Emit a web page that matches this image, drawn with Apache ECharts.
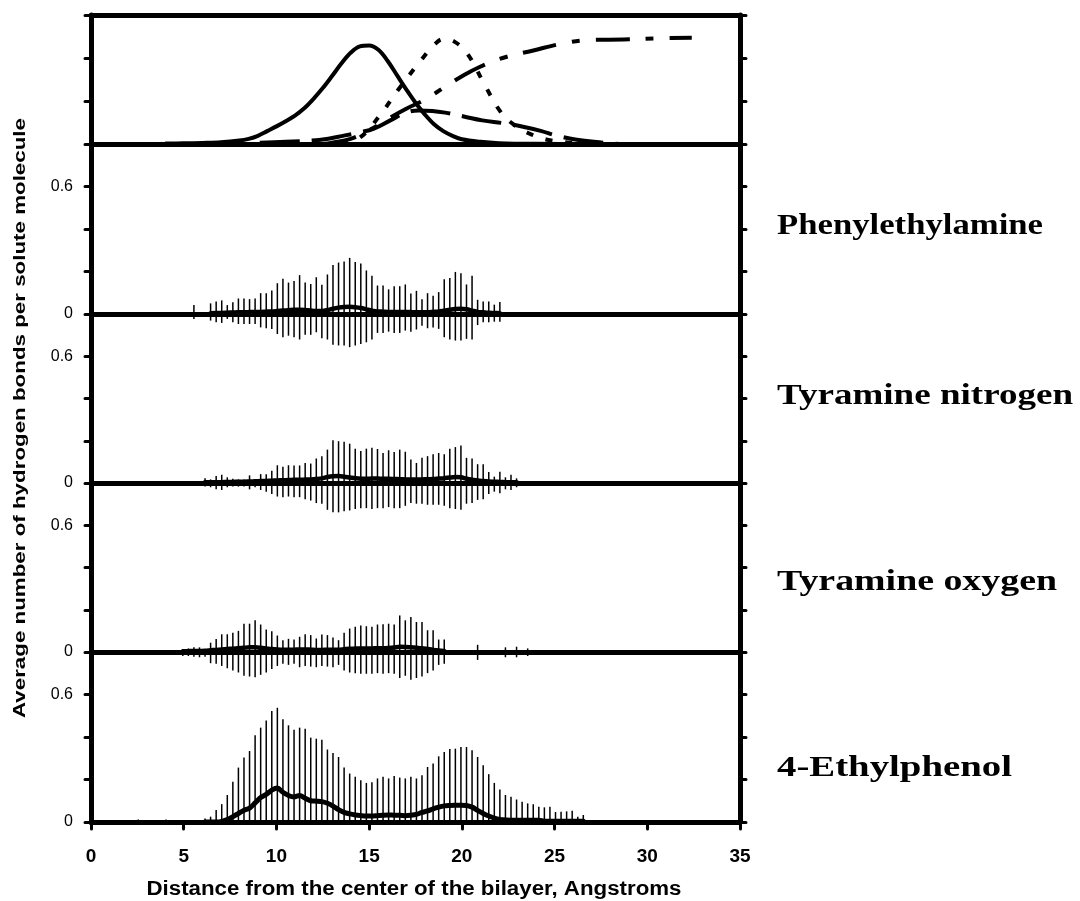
<!DOCTYPE html>
<html><head><meta charset="utf-8">
<script src="https://cdn.jsdelivr.net/npm/echarts@6/dist/echarts.min.js"></script>
<style>html,body{margin:0;padding:0;background:#fff}#c{width:1080px;height:901px}</style>
</head><body><div id="c"></div>
<script>
// ---------- DATA ----------
const xTicks = [0, 5, 10, 15, 20, 25, 30, 35];
const yTickLabels = ['0', '0.6'];
const panelNames = ['Phenylethylamine', 'Tyramine nitrogen', 'Tyramine oxygen', '4-Ethylphenol'];
const xTitle = 'Distance from the center of the bilayer, Angstroms';
const yTitle = 'Average number of hydrogen bonds per solute molecule';

// bin centres (Angstrom)
const distanceBins = [2.55, 2.85, 3.15, 3.45, 3.75, 4.05, 4.35, 4.65,
  4.95, 5.25, 5.55, 5.85, 6.15, 6.45, 6.75, 7.05, 7.35, 7.65, 7.95, 8.25, 8.55, 8.85,
  9.15, 9.45, 9.75, 10.05, 10.35, 10.65, 10.95, 11.25, 11.55, 11.85, 12.15, 12.45, 12.75,
  13.05, 13.35, 13.65, 13.95, 14.25, 14.55, 14.85, 15.15, 15.45, 15.75, 16.05, 16.35,
  16.65, 16.95, 17.25, 17.55, 17.85, 18.15, 18.45, 18.75, 19.05, 19.35, 19.65, 19.95,
  20.25, 20.55, 20.85, 21.15, 21.45, 21.75, 22.05, 22.35, 22.65, 22.95, 23.25, 23.55,
  23.85, 24.15, 24.45, 24.75, 25.05, 25.35, 25.65, 25.95, 26.25, 26.55];

// top panel: density profiles (arbitrary units 0..3)
const profileA_x = [4.0, 5, 6, 7, 8, 8.5, 9, 9.5, 10, 10.5, 11, 11.5, 12, 12.5, 13, 13.5, 14, 14.5, 15, 15.5, 16, 16.5, 17, 17.5, 18, 18.5, 19, 19.5, 20, 21, 22, 24, 27.5];
const profileA_y = [0.01, 0.015, 0.025, 0.04, 0.08, 0.12, 0.19, 0.3, 0.41, 0.53, 0.66, 0.83, 1.05, 1.3, 1.58, 1.87, 2.12, 2.27, 2.29, 2.19, 1.93, 1.6, 1.27, 0.96, 0.69, 0.46, 0.3, 0.19, 0.11, 0.05, 0.02, 0.005, 0];
const profileB_x = [9.1, 10.5, 12.4, 13.7, 14.5, 15.26, 16.14, 17.0, 17.68, 18.4, 19.1, 20.1, 21.1, 22.3, 23.3, 24.3, 25.05, 26.2, 27.4, 28.5];
const profileB_y = [0.03, 0.05, 0.1, 0.2, 0.27, 0.36, 0.55, 0.73, 0.78, 0.77, 0.73, 0.64, 0.55, 0.48, 0.4, 0.3, 0.2, 0.1, 0.04, 0];
const profileC_x = [13.5, 14.5, 15.5, 16.6, 17.8, 18.5, 19.0, 19.6, 20.3, 21.2, 22.1, 22.8, 23.6, 24.6, 25.8, 27.0];
const profileC_y = [0, 0.15, 0.62, 1.28, 1.95, 2.3, 2.44, 2.38, 2.1, 1.4, 0.74, 0.45, 0.25, 0.1, 0.03, 0];
const profileD_x = [12.5, 13.0, 14.0, 15.0, 16.0, 17.0, 18.0, 19.2, 20.1, 20.9, 22.2, 23.8, 25.7, 27.0, 28.7, 30.7, 32.4];
const profileD_y = [0, 0.03, 0.12, 0.32, 0.58, 0.82, 1.03, 1.36, 1.6, 1.78, 2.0, 2.17, 2.36, 2.42, 2.43, 2.46, 2.47];

// Phenylethylamine (bins from index 10)
const phenylStart = 10;
const phenylTop = [0.042, null, null, 0.05, 0.059, 0.064, 0.042, 0.055, 0.073, 0.073, 0.07, 0.073, 0.098, 0.098, 0.111, 0.145, 0.166, 0.148, 0.155, 0.183, 0.148, 0.141, 0.173, 0.138, 0.186, 0.231, 0.242, 0.247, 0.264, 0.245, 0.238, 0.205, 0.18, 0.134, 0.134, 0.116, 0.131, 0.131, 0.139, 0.097, 0.109, 0.069, 0.098, 0.086, 0.103, 0.164, 0.169, 0.198, 0.192, 0.139, 0.18, 0.067, 0.059, 0.059, 0.044, 0.056];
const phenylLow = [-0.023, null, null, -0.031, -0.039, -0.042, -0.023, -0.039, -0.047, -0.047, -0.047, -0.047, -0.063, -0.067, -0.07, -0.094, -0.109, -0.102, -0.109, -0.12, -0.098, -0.098, -0.086, -0.114, -0.12, -0.145, -0.148, -0.148, -0.156, -0.148, -0.141, -0.133, -0.12, -0.089, -0.089, -0.083, -0.089, -0.089, -0.078, -0.083, -0.073, -0.055, -0.067, -0.063, -0.07, -0.109, -0.12, -0.125, -0.125, -0.117, -0.12, -0.052, -0.039, -0.039, -0.036, -0.036];
const phenylMean = [0.004, null, null, 0.004, 0.005, 0.005, 0.006, 0.007, 0.008, 0.008, 0.009, 0.01, 0.01, 0.011, 0.012, 0.014, 0.016, 0.018, 0.02, 0.02, 0.019, 0.016, 0.014, 0.014, 0.018, 0.025, 0.03, 0.033, 0.034, 0.032, 0.028, 0.022, 0.016, 0.012, 0.011, 0.01, 0.01, 0.01, 0.01, 0.009, 0.008, 0.008, 0.008, 0.01, 0.012, 0.016, 0.02, 0.024, 0.025, 0.022, 0.016, 0.01, 0.008, 0.006, 0.005, 0.004];

// Tyramine nitrogen (bins from index 12)
const nitroStart = 12;
const nitroTop = [0.022, 0.017, 0.033, 0.039, 0.027, 0.02, 0.017, 0.017, 0.036, 0.019, 0.042, 0.042, 0.058, 0.084, 0.077, 0.084, 0.083, 0.083, 0.095, 0.092, 0.116, 0.127, 0.158, 0.202, 0.198, 0.195, 0.186, 0.1625, 0.152, 0.1625, 0.167, 0.161, 0.142, 0.155, 0.147, 0.158, 0.148, 0.111, 0.095, 0.12, 0.127, 0.136, 0.142, 0.136, 0.1625, 0.17, 0.178, 0.119, 0.116, 0.089, 0.089, 0.052, 0.03, 0.053, 0.027, 0.039, 0.022];
const nitroLow = [-0.017, -0.02, -0.03, -0.033, -0.02, -0.017, -0.017, -0.017, -0.03, -0.02, -0.033, -0.041, -0.052, -0.064, -0.067, -0.064, -0.067, -0.067, -0.077, -0.083, -0.095, -0.098, -0.127, -0.139, -0.139, -0.134, -0.13, -0.123, -0.119, -0.119, -0.123, -0.119, -0.119, -0.114, -0.119, -0.119, -0.108, -0.095, -0.098, -0.098, -0.103, -0.103, -0.103, -0.108, -0.119, -0.123, -0.127, -0.098, -0.095, -0.08, -0.077, -0.052, -0.041, -0.048, -0.03, -0.033, -0.02];
const nitroMean = [0.003, 0.003, 0.004, 0.004, 0.005, 0.005, 0.006, 0.006, 0.007, 0.008, 0.009, 0.01, 0.011, 0.012, 0.013, 0.014, 0.015, 0.015, 0.016, 0.017, 0.019, 0.022, 0.028, 0.032, 0.033, 0.03, 0.026, 0.022, 0.02, 0.02, 0.021, 0.021, 0.02, 0.02, 0.019, 0.018, 0.017, 0.016, 0.016, 0.017, 0.018, 0.019, 0.021, 0.023, 0.026, 0.028, 0.027, 0.02, 0.015, 0.012, 0.009, 0.007, 0.006, 0.005, 0.004, 0.003, 0.003];

// Tyramine oxygen (bins from index 8)
const oxyStart = 8;
const oxyTop = [0.014, 0.017, 0.022, 0.022, 0.0125, 0.044, 0.061, 0.084, 0.084, 0.091, 0.1, 0.134, 0.134, 0.15, 0.13, 0.106, 0.098, 0.078, 0.056, 0.0625, 0.059, 0.072, 0.084, 0.08, 0.064, 0.083, 0.08, 0.069, 0.056, 0.091, 0.111, 0.119, 0.125, 0.122, 0.119, 0.13, 0.131, 0.134, 0.13, 0.173, 0.15, 0.166, 0.142, 0.142, 0.103, 0.103, 0.059, 0.059, null, null, null, null, null, 0.034, null, null, null, null, 0.022, null, 0.025, null, 0.017];
const oxyLow = [-0.019, -0.019, -0.022, -0.025, -0.022, -0.053, -0.056, -0.066, -0.077, -0.0875, -0.097, -0.1125, -0.116, -0.119, -0.108, -0.097, -0.081, -0.066, -0.056, -0.061, -0.056, -0.072, -0.066, -0.069, -0.072, -0.066, -0.069, -0.072, -0.061, -0.0875, -0.097, -0.1, -0.103, -0.103, -0.103, -0.1, -0.103, -0.1, -0.103, -0.123, -0.1125, -0.131, -0.123, -0.116, -0.1, -0.0875, -0.061, -0.056, null, null, null, null, null, -0.0375, null, null, null, null, -0.025, null, -0.025, null, -0.019];
const oxyMean = [0.003, 0.004, 0.005, 0.005, 0.006, 0.008, 0.01, 0.012, 0.014, 0.016, 0.018, 0.02, 0.022, 0.022, 0.02, 0.017, 0.014, 0.012, 0.011, 0.011, 0.011, 0.012, 0.012, 0.011, 0.01, 0.01, 0.011, 0.011, 0.011, 0.013, 0.015, 0.016, 0.017, 0.017, 0.017, 0.018, 0.018, 0.019, 0.021, 0.025, 0.024, 0.022, 0.02, 0.018, 0.014, 0.01, 0.007, 0.005, null, null, null, null, null, null, null, null, null, null, null, null, null, null, null];

// 4-Ethylphenol (bins from index 0)
const ethylStart = 0;
const ethylTop = [0.012, 0.01, null, 0.01, null, 0.012, null, null, null, null, null, null,
  0.017, 0.025, 0.056, 0.084, 0.127, 0.189, 0.256, 0.303, 0.334, 0.408, 0.444, 0.478, 0.522, 0.5375, 0.483, 0.455, 0.434, 0.444, 0.439, 0.397, 0.392, 0.3875, 0.341, 0.325, 0.306, 0.256, 0.228, 0.2125, 0.197, 0.184, 0.1875, 0.205, 0.2125, 0.205, 0.216, 0.209, 0.205, 0.2125, 0.205, 0.22, 0.259, 0.275, 0.309, 0.33, 0.344, 0.345, 0.353, 0.353, 0.3375, 0.306, 0.267, 0.225, 0.184, 0.153, 0.127, 0.119, 0.106, 0.095, 0.0875, 0.084, 0.072, 0.069, 0.072, 0.047, 0.048, 0.05, 0.053, 0.025, 0.033];
const ethylMean = [null, null, null, null, null, null, null, null, null, null, null, null,
  0, 0, 0, 0.003, 0.012, 0.025, 0.04, 0.055, 0.065, 0.09, 0.115, 0.13, 0.15, 0.16, 0.14, 0.125, 0.118, 0.125, 0.112, 0.1, 0.098, 0.096, 0.088, 0.075, 0.058, 0.045, 0.038, 0.033, 0.03, 0.028, 0.028, 0.03, 0.032, 0.033, 0.032, 0.032, 0.03, 0.032, 0.036, 0.045, 0.052, 0.062, 0.07, 0.076, 0.078, 0.079, 0.079, 0.078, 0.07, 0.055, 0.04, 0.028, 0.018, 0.012, 0.01, 0.008, 0.008, 0.008, 0.008, 0.008, 0.008, 0.004, 0.004, 0.004, 0.004, 0.004, 0.004, 0.004, 0.004];

// ---------- BUILD ----------
const zip = (xs, ys) => xs.map((x, i) => [x, ys[i]]);
function barData(start, tops, lows) {
  const out = [];
  tops.forEach((t, i) => {
    if (t == null) return;
    out.push([distanceBins[start + i], t, lows ? lows[i] : 0]);
  });
  return out;
}
function meanData(start, means) {
  return means.map((m, i) => [distanceBins[start + i], m == null ? '-' : m]);
}

const FONT = '"Liberation Sans", Arial, sans-serif';
const SERIF = '"Liberation Serif", "Times New Roman", serif';
const grids = [
  { left: 91, top: 15, width: 649, height: 129 },
  { left: 91, top: 144, width: 649, height: 170 },
  { left: 91, top: 314, width: 649, height: 169 },
  { left: 91, top: 483, width: 649, height: 169 },
  { left: 91, top: 652, width: 649, height: 170 }
];
const AXW = 5;
const xAxes = grids.map((g, i) => ({
  type: 'value', gridIndex: i, min: xTicks[0], max: xTicks[xTicks.length - 1], interval: 5,
  position: 'bottom',
  axisLine: { show: true, onZero: false, lineStyle: { color: '#000', width: AXW } },
  axisTick: { show: i === 4, length: 7, lineStyle: { color: '#000', width: 3, cap: 'round' } },
  axisLabel: {
    show: i === 4, color: '#000', fontSize: 19, fontWeight: 'bold', fontFamily: FONT, margin: 25,
    formatter: v => xTicks.includes(v) ? String(v) : ''
  },
  splitLine: { show: false }
}));
xAxes.push({
  type: 'value', gridIndex: 0, min: 0, max: 35, position: 'top',
  axisLine: { show: true, onZero: false, lineStyle: { color: '#000', width: AXW } },
  axisTick: { show: false }, axisLabel: { show: false }, splitLine: { show: false }
});
function yAx(i, pos) {
  const top = i === 0;
  return {
    type: 'value', gridIndex: i, position: pos, min: 0, max: top ? 3 : 0.8, interval: top ? 1 : 0.2,
    axisLine: { show: true, onZero: false, lineStyle: { color: '#000', width: AXW } },
    axisTick: { show: true, length: 6, lineStyle: { color: '#000', width: 3, cap: 'round' } },
    axisLabel: {
      show: !top && pos === 'left', color: '#000', fontSize: 16, fontFamily: FONT, margin: 18,
      formatter: v => (Math.abs(v) < 1e-6 ? yTickLabels[0] : (Math.abs(v - 0.6) < 1e-6 ? yTickLabels[1] : ''))
    },
    splitLine: { show: false }
  };
}
const yAxes = [];
for (let i = 0; i < 5; i++) yAxes.push(yAx(i, 'left'));
for (let i = 0; i < 5; i++) yAxes.push(yAx(i, 'right'));

function errSeries(idx, data) {
  return {
    type: 'custom', xAxisIndex: idx, yAxisIndex: idx, clip: false, z: 3, silent: true,
    data: data,
    renderItem: function (params, api) {
      const x = api.value(0), hi = api.value(1), lo = api.value(2);
      const p1 = api.coord([x, hi]), p2 = api.coord([x, lo]);
      return { type: 'line', shape: { x1: p1[0], y1: p1[1], x2: p2[0], y2: p2[1] },
        style: { stroke: '#000', lineWidth: 1.5 } };
    }
  };
}
function meanSeries(idx, data, w) {
  return { type: 'line', xAxisIndex: idx, yAxisIndex: idx, data: data, showSymbol: false,
    smooth: 0.3, connectNulls: false, z: 4, silent: true,
    lineStyle: { color: '#000', width: w || 4.5, cap: 'round', join: 'round' } };
}
function profSeries(data, dash, sm) {
  return { type: 'line', xAxisIndex: 0, yAxisIndex: 0, data: data, showSymbol: false,
    smooth: sm == null ? 0.4 : sm,
    z: 3, silent: true, lineStyle: { color: '#000', width: 4, type: dash || 'solid', cap: 'butt', join: 'round' } };
}

const series = [
  profSeries(zip(profileA_x, profileA_y), 'solid', 0.35),
  profSeries(zip(profileB_x, profileB_y), [40, 12]),
  profSeries(zip(profileC_x, profileC_y), [7, 13]),
  profSeries(zip(profileD_x, profileD_y), [34, 16, 8, 16]),
  errSeries(1, barData(phenylStart, phenylTop, phenylLow)),
  meanSeries(1, meanData(phenylStart, phenylMean)),
  errSeries(2, barData(nitroStart, nitroTop, nitroLow)),
  meanSeries(2, meanData(nitroStart, nitroMean)),
  errSeries(3, barData(oxyStart, oxyTop, oxyLow)),
  meanSeries(3, meanData(oxyStart, oxyMean)),
  errSeries(4, barData(ethylStart, ethylTop, null)),
  meanSeries(4, meanData(ethylStart, ethylMean), 5)
];

// text stretching to match reference extents
const mctx = document.createElement('canvas').getContext('2d');
function widthOf(txt, font) { mctx.font = font; return mctx.measureText(txt).width; }
const yTitleScale = 600 / widthOf(yTitle, 'bold 16px ' + FONT);
const xTitleScale = 535 / widthOf(xTitle, 'bold 20px ' + FONT);

const labelY = [226, 396, 582, 768];
const labelW = [266, 296, 280, 235];
const LFS = 30;
const graphic = [
  { type: 'text', x: 21, y: 418, rotation: Math.PI / 2, scaleX: yTitleScale, scaleY: 1, z: 10,
    style: { text: yTitle, fontSize: 16, fontWeight: 'bold', fontFamily: FONT, fill: '#000', align: 'center', verticalAlign: 'middle' } },
  { type: 'text', x: 414, y: 889, scaleX: xTitleScale, scaleY: 1, z: 10,
    style: { text: xTitle, fontSize: 20, fontWeight: 'bold', fontFamily: FONT, fill: '#000', align: 'center', verticalAlign: 'middle' } }
].concat(panelNames.map((n, i) => ({
  type: 'text', x: 777, y: labelY[i], z: 10,
  scaleX: labelW[i] / widthOf(n, 'bold ' + LFS + 'px ' + SERIF), scaleY: 1,
  style: { text: n, fontSize: LFS, fontWeight: 'bold', fontFamily: SERIF, fill: '#000', align: 'left', verticalAlign: 'middle' }
})));

const chart = echarts.init(document.getElementById('c'), null, { renderer: 'canvas' });
chart.setOption({
  animation: false,
  backgroundColor: '#fff',
  grid: grids,
  xAxis: xAxes,
  yAxis: yAxes,
  series: series,
  graphic: graphic
});
</script></body></html>
